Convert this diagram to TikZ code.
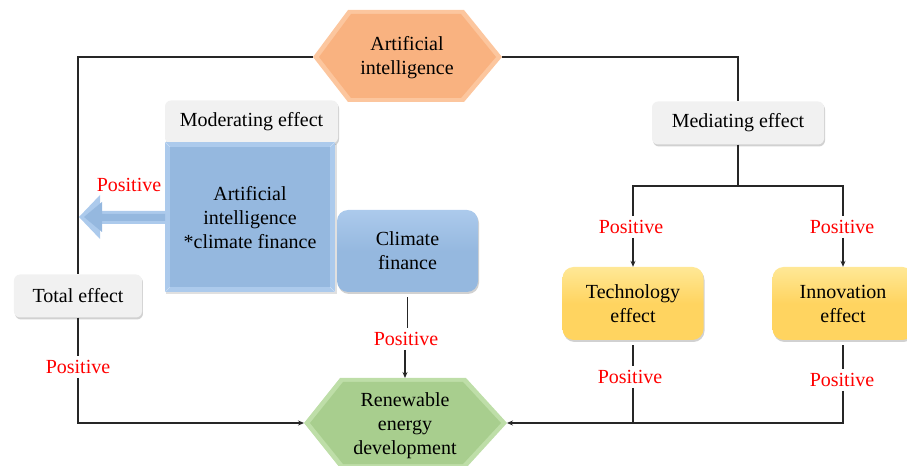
\documentclass[tikz,border=0pt]{standalone}
\usepackage{fontspec}
\setmainfont{LiberationSerif}[Extension=.ttf, UprightFont=*-Regular, BoldFont=*-Bold]
\usetikzlibrary{arrows.meta,shadows,calc}

\definecolor{orangeM}{RGB}{249,178,128}
\definecolor{orangeL}{RGB}{252,198,158}
\definecolor{blueM}{RGB}{149,184,223}
\definecolor{blueL}{RGB}{172,202,236}
\definecolor{greenM}{RGB}{168,206,142}
\definecolor{greenL}{RGB}{190,222,168}
\definecolor{yellowM}{RGB}{255,212,96}
\definecolor{yellowL}{RGB}{255,232,150}
\definecolor{boxgrey}{RGB}{241,241,241}
\definecolor{posred}{RGB}{255,0,0}

\begin{document}
\begin{tikzpicture}[x=1bp,y=-1bp,
  font=\rmfamily\fontsize{20bp}{24bp}\selectfont,
  line/.style={draw=black!85, line width=1.1pt},
  arr/.style={line, -{Stealth[length=6pt,width=5pt]}},
  effectlabel/.style={text=posred, inner sep=4bp},
  label text/.style={align=center, inner sep=0pt},
  greybox/.style={fill=boxgrey, rounded corners=6bp, minimum height=43bp,
    inner sep=0pt, drop shadow={shadow xshift=1pt, shadow yshift=-2pt,
    opacity=0.18, fill=black}},
  roundbox/.style={rounded corners=11bp, inner sep=0pt, align=center,
    drop shadow={shadow xshift=1pt, shadow yshift=-2pt, opacity=0.18, fill=black}},
]
\useasboundingbox (0,0) rectangle (907,466);

% ---- Artificial intelligence (bevelled hexagon)
\fill[orangeL] (313,57) -- (348,10) -- (464,10) -- (502,57) -- (464,102) -- (348,102) -- cycle;
\fill[orangeM] (319,57) -- (351,14) -- (461,14) -- (496,57) -- (461,98) -- (351,98) -- cycle;
\node[label text] (ai) at (407,58) {Artificial\\intelligence};
\coordinate (aiW) at (313,57);
\coordinate (aiE) at (502,57);

% ---- Renewable energy development (bevelled hexagon)
\fill[greenL] (304,423) -- (340,378) -- (466,378) -- (507,423) -- (466,468) -- (340,468) -- cycle;
\fill[greenM] (310,423) -- (343,382) -- (463,382) -- (501,423) -- (463,464) -- (343,464) -- cycle;
\node[label text] (re) at (405,426) {Renewable\\energy\\development};
\coordinate (reW) at (304,423);
\coordinate (reE) at (507,423);
\coordinate (reN) at (405,378);

% ---- grey caption boxes
\node[greybox, minimum width=128bp] (total) at (78,296) {Total effect};
\node[greybox, minimum width=173bp] (moder) at (251.5,122) {Moderating effect};
\node[greybox, minimum width=172bp] (medi) at (738,123) {Mediating effect};

% ---- interaction term (bevelled square)
\fill[black, opacity=0.12] (166,144) rectangle (337,294);
\fill[blueL] (165,142) rectangle (335,292);
\fill[blueM] (170,147) rectangle (330,287);
\draw[blueL!60!white, line width=0.6pt] (165,142) -- (170,147) (335,142) -- (330,147)
  (165,292) -- (170,287) (335,292) -- (330,287);
\node[label text] (inter) at (250,218) {Artificial\\intelligence\\*climate finance};

% ---- moderating arrow pointing to the total-effect path
\fill[blueL] (165,211) -- (100,211) -- (100,195) -- (79,217) -- (100,239) -- (100,224) -- (165,224) -- cycle;
\fill[blueM] (165,214) -- (102,214) -- (102,202) -- (84,217) -- (102,232) -- (102,221) -- (165,221) -- cycle;
\node[effectlabel] (pMod) at (129,185) {Positive};

% ---- Climate finance
\node[roundbox, top color=blueL, bottom color=blueM, middle color=blueM,
  minimum width=141bp, minimum height=82bp] (cf) at (407.5,251) {Climate\\finance};

% ---- mechanism boxes
\node[roundbox, top color=yellowL, bottom color=yellowM, middle color=yellowM,
  minimum width=141bp, minimum height=73bp] (tech) at (633,303.5) {Technology\\effect};
\node[roundbox, top color=yellowL, bottom color=yellowM, middle color=yellowM,
  minimum width=141bp, minimum height=73bp] (inno) at (843,303.5) {Innovation\\effect};

% ---- effect labels
\node[effectlabel] (pTot) at (78,367) {Positive};
\node[effectlabel] (pCF) at (406,339) {Positive};
\node[effectlabel] (pT1) at (631,227) {Positive};
\node[effectlabel] (pI1) at (842,227) {Positive};
\node[effectlabel] (pT2) at (630,377) {Positive};
\node[effectlabel] (pI2) at (842,380) {Positive};

% ---- total effect path
\draw[line] (aiW) -| (total.north);
\draw[line] (total.south) -- (pTot.north);
\draw[arr] (pTot.south) |- (reW);

% ---- mediating path
\coordinate (fork) at (738,186);
\draw[line] (aiE) -| (medi.north);
\draw[line] (medi.south) -- (fork);
\draw[line] (pT1.north -| tech.north) |- (fork) -| (pI1.north -| inno.north);
\draw[arr] (pT1.south -| tech.north) -- (tech.north);
\draw[arr] (pI1.south -| inno.north) -- (inno.north);
\draw[line, shorten <=5bp] (tech.south) -- (pT2.north -| tech.south);
\draw[line, shorten <=5bp] (inno.south) -- (pI2.north -| inno.south);
\draw[arr] (pI2.south -| inno.south) |- (reE);
\draw[line] (pT2.south -| tech.south) -- (reE -| tech.south);

% ---- moderator to outcome
\draw[line, shorten <=5bp] (cf.south) -- (pCF.north -| cf.south);
\draw[arr] (pCF.south -| reN) -- (reN);
\end{tikzpicture}
\end{document}
